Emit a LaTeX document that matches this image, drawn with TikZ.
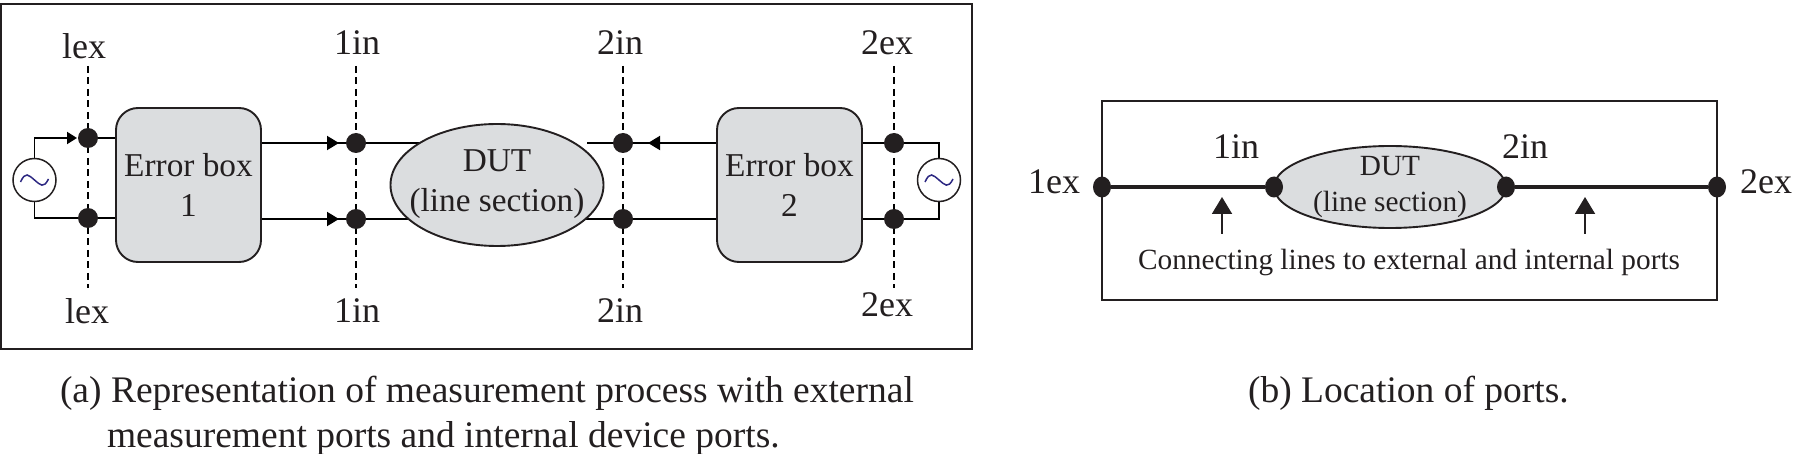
\documentclass[tikz,border=0pt]{standalone}
\usepackage{fontspec}
\setmainfont{Liberation Serif}
\usetikzlibrary{arrows.meta,shapes.geometric,backgrounds}
\definecolor{ink}{RGB}{35,31,32}
\definecolor{boxgray}{RGB}{219,221,223}
\definecolor{wavecol}{RGB}{45,40,130}
\newcommand{\srcwave}[1]{\draw[wavecol, line width=1.5pt] (#1) ++(-14,2) .. controls +(5,-11) and +(-6,-5) .. ++(14,-2) .. controls +(6,5) and +(-5,10) .. ++(14,-1);}
\begin{document}
\begin{tikzpicture}[x=1pt, y=-1pt, ink,
   every node/.style={inner sep=0pt, outer sep=0pt, text=ink},
   lbl/.style={font=\fontsize{36}{42}\selectfont},
   txt/.style={font=\fontsize{33.3}{40}\selectfont, align=center},
   small/.style={font=\fontsize{29.3}{36}\selectfont, align=center},
   capt/.style={font=\fontsize{37.5}{46}\selectfont},
   frame/.style={draw, line width=2pt},
   wire/.style={line width=1.9pt},
   arrowwire/.style={wire, -{Triangle[length=12pt, width=14pt]}, shorten >=7pt},
   thick line/.style={line width=4.5pt},
   portline/.style={line width=1.3pt, dash pattern=on 7pt off 4.5pt},
   errbox/.style={draw, line width=1.9pt, fill=boxgray, rounded corners=22pt, minimum width=145pt, minimum height=154pt, txt},
   dut/.style={draw, ellipse, line width=1.9pt, fill=boxgray},
   dot/.style={circle, fill=ink, minimum size=20pt},
   tall dot/.style={ellipse, fill=ink, minimum width=18pt, minimum height=21pt},
   src/.style={circle, draw, line width=1.5pt, fill=white, minimum size=43pt}]
\useasboundingbox (0,0) rectangle (1796,454);

% left panel
\node[frame, minimum width=971pt, minimum height=345pt] (framea) at (486.5,176.5) {};
\node[errbox] (boxa) at (188.5,185) {Error box\\1};
\node[errbox] (boxb) at (789.5,185) {Error box\\2};
\node[dut, minimum width=213pt, minimum height=122pt] (duta) at (497,185) {};
\node[txt] (dutatxt) at (497,184) {DUT\\(line section)};
\node[src] (srca) at (34.5,180) {};
\node[src] (srcb) at (939,180) {};
\srcwave{srca}
\srcwave{srcb}

\foreach \nm/\xx in {a/88,b/356,c/623,d/894} {
  \coordinate (top\nm) at (\xx,66);
  \coordinate (bot\nm) at (\xx,288);
  \begin{scope}[on background layer]
    \draw[portline] (top\nm) -- (bot\nm);
  \end{scope}
}
\node[dot] (upa) at (88,138) {};
\node[dot] (loa) at (88,218) {};
\node[dot] (upb) at (356,143) {};
\node[dot] (lob) at (356,219) {};
\node[dot] (upc) at (623,143) {};
\node[dot] (loc) at (623,219) {};
\node[dot] (upd) at (894,143) {};
\node[dot] (lod) at (894,219) {};
\coordinate (gapc) at (587,143);

\begin{scope}[on background layer]
  \draw[wire, -{Triangle[length=10pt, width=12pt]}, shorten >=1pt] (srca.center) |- (upa);
  \draw[wire] (srca.center) |- (loa);
  \draw[wire] (upa) -- (boxa.west |- upa);
  \draw[wire] (loa) -- (boxa.west |- loa);
  \draw[arrowwire] (boxa.east |- upb) -- (upb);
  \draw[arrowwire] (boxa.east |- lob) -- (lob);
  \draw[wire] (boxa.east |- upb) -- (duta.center |- upb);
  \draw[wire] (boxa.east |- lob) -- (duta.center |- lob);
  \draw[wire] (gapc) -- (boxb.west |- upc);
  \draw[wire] (duta.center |- loc) -- (boxb.west |- loc);
  \draw[arrowwire, shorten >=15pt] (boxb.west |- upc) -- (upc);
  \draw[wire] (boxb.east |- upd) -| (srcb.center);
  \draw[wire] (boxb.east |- lod) -| (srcb.center);
\end{scope}

\node[lbl] (lbla) at (84,46) {lex};
\node[lbl] (lblb) at (357,43) {1in};
\node[lbl] (lblc) at (620,43) {2in};
\node[lbl] (lbld) at (887,43) {2ex};
\node[lbl] (lble) at (87,311) {lex};
\node[lbl] (lblf) at (357,311) {1in};
\node[lbl] (lblg) at (620,311) {2in};
\node[lbl] (lblh) at (887,305) {2ex};

% right panel
\node[frame, minimum width=615pt, minimum height=199pt] (frameb) at (1409.5,200.5) {};
\node[dut, minimum width=232pt, minimum height=82pt] (dutb) at (1390,187) {};
\node[small] (dutbtxt) at (1390,187) {DUT\\(line section)};
\node[tall dot] (pa) at (1102,187) {};
\node[tall dot] (pb) at (1274,187) {};
\node[tall dot] (pc) at (1506,187) {};
\node[tall dot] (pd) at (1717,187) {};
\draw[thick line] (pa) -- (pb);
\draw[thick line] (pc) -- (pd);
\node[lbl] (lbli) at (1054,182) {1ex};
\node[lbl] (lblj) at (1236,147) {1in};
\node[lbl] (lblk) at (1525,147) {2in};
\node[lbl] (lbll) at (1766,182) {2ex};
\node[small] (conn) at (1409,262) {Connecting lines to external and internal ports};
\coordinate (tipa) at (1222,197);
\coordinate (taila) at (1222,234);
\coordinate (tipb) at (1585,197);
\coordinate (tailb) at (1585,234);
\draw[wire, -{Triangle[length=17pt, width=20pt]}] (taila) -- (tipa);
\draw[wire, -{Triangle[length=17pt, width=20pt]}] (tailb) -- (tipb);

% captions
\node[capt, anchor=west] (capa) at (60,393) {(a) Representation of measurement process with external};
\node[capt, anchor=west] (capc) at (107,438) {measurement ports and internal device ports.};
\node[capt, anchor=west] (capb) at (1248,393) {(b) Location of ports.};
\end{tikzpicture}
\end{document}
